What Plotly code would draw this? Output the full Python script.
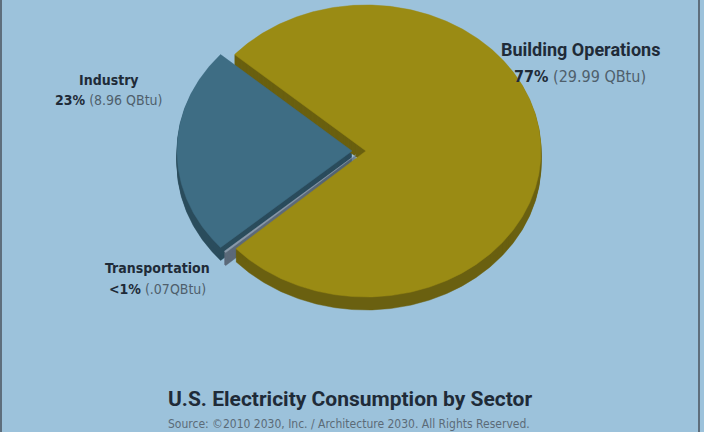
import math
import plotly.graph_objects as go

# ---- data ----
sectors = ["Building Operations", "Transportation", "Industry"]
qbtu = [29.99, 0.07, 8.96]
pct_labels = ["77%", "&lt;1%", "23%"]
qbtu_labels = ["(29.99 QBtu)", "(.07QBtu)", "(8.96 QBtu)"]
title_text = "U.S. Electricity Consumption by Sector"
source_text = "Source: ©2010 2030, Inc. / Architecture 2030. All Rights Reserved."

# ---- styling / layout ----
W, H = 704, 432
BG = "#9cc2db"
top_colors = {"Building Operations": "#9a8b14", "Transportation": "#8a9aab", "Industry": "#3e6d84"}
side_colors = {"Building Operations": "#6a6010", "Transportation": "#5d6b7b", "Industry": "#2b4c5d"}
pull_px = {"Building Operations": 5, "Transportation": 7, "Industry": 9}
CX, CY, RX, RY, DEPTH = 361, 151, 175, 146, 13
NARROW = "DejaVu Sans Condensed, DejaVu Sans, sans-serif"
TITLEF = "Roboto, DejaVu Sans, sans-serif"
DARK = "#1f2b38"
GREY = "#4f5f6c"

total = sum(qbtu)
# counter-clockwise drawing order, Industry centred on the left
order = ["Industry", "Transportation", "Building Operations"]
idx = {s: i for i, s in enumerate(sectors)}
start = 180 - 360 * qbtu[idx["Industry"]] / total / 2

wedges = {}
a = start
for s in order:
    span = 360 * qbtu[idx[s]] / total
    a0, a1 = a, a + span
    mid = math.radians((a0 + a1) / 2)
    p = pull_px[s]
    ox = p * math.cos(mid)
    oy = -p * (RY / RX) * math.sin(mid)
    n = max(4, int(span * 2))
    xs = [CX + ox]
    ys = [CY + oy]
    for k in range(n + 1):
        t = math.radians(a0 + (a1 - a0) * k / n)
        xs.append(CX + ox + RX * math.cos(t))
        ys.append(CY + oy - RY * math.sin(t))
    xs.append(CX + ox)
    ys.append(CY + oy)
    wedges[s] = (xs, ys)
    a = a1

fig = go.Figure()

# side walls: extrude each wedge downward
for s in order:
    xs, ys = wedges[s]
    X, Y = [], []
    for d in range(1, DEPTH + 1):
        X += xs + [None]
        Y += [y + d for y in ys] + [None]
    fig.add_trace(go.Scatter(x=X, y=Y, mode="lines", fill="toself",
                             fillcolor=side_colors[s], line=dict(width=0.5, color=side_colors[s]),
                             hoverinfo="skip", showlegend=False))

# top faces
for s in ["Building Operations", "Transportation", "Industry"]:
    xs, ys = wedges[s]
    fig.add_trace(go.Scatter(x=xs, y=ys, mode="lines", fill="toself",
                             fillcolor=top_colors[s], line=dict(width=0.5, color=top_colors[s]),
                             hoverinfo="skip", showlegend=False, name=s))

# (x, y line1, y line2, size line1, size line2, font line1)
label_pos = {
    "Building Operations": (580, 49, 76, 18, 16, TITLEF),
    "Industry": (109, 80, 100, 14, 14, NARROW),
    "Transportation": (157, 268, 289, 14, 14, NARROW),
}
ann = []
for s, (x, y1, y2, f1, f2, fam) in label_pos.items():
    i = idx[s]
    ann.append(dict(x=x, y=y1, text="<b>%s</b>" % s, showarrow=False,
                    font=dict(family=fam, size=f1, color=DARK), xref="x", yref="y"))
    ann.append(dict(x=x, y=y2,
                    text="<b>%s</b> <span style='color:%s'>%s</span>" % (pct_labels[i], GREY, qbtu_labels[i]),
                    showarrow=False, font=dict(family=NARROW, size=f2, color=DARK), xref="x", yref="y"))
ann.append(dict(x=350, y=399, text="<b>%s</b>" % title_text, showarrow=False,
                font=dict(family=TITLEF, size=21, color=DARK), xref="x", yref="y"))
ann.append(dict(x=349, y=424, text=source_text, showarrow=False,
                font=dict(family=NARROW, size=12, color="#5b6b78"), xref="x", yref="y"))

fig.update_layout(
    width=W, height=H, margin=dict(l=0, r=0, t=0, b=0),
    paper_bgcolor=BG, plot_bgcolor=BG,
    xaxis=dict(range=[0, W], visible=False, fixedrange=True),
    yaxis=dict(range=[H, 0], visible=False, fixedrange=True),
    annotations=ann,
    shapes=[
        dict(type="line", xref="x", yref="y", x0=1, x1=1, y0=0, y1=H, line=dict(color="#5e6e7c", width=2)),
        dict(type="line", xref="x", yref="y", x0=699, x1=699, y0=0, y1=H, line=dict(color="#5e6e7c", width=2)),
    ],
)
fig.write_html("out.html")
